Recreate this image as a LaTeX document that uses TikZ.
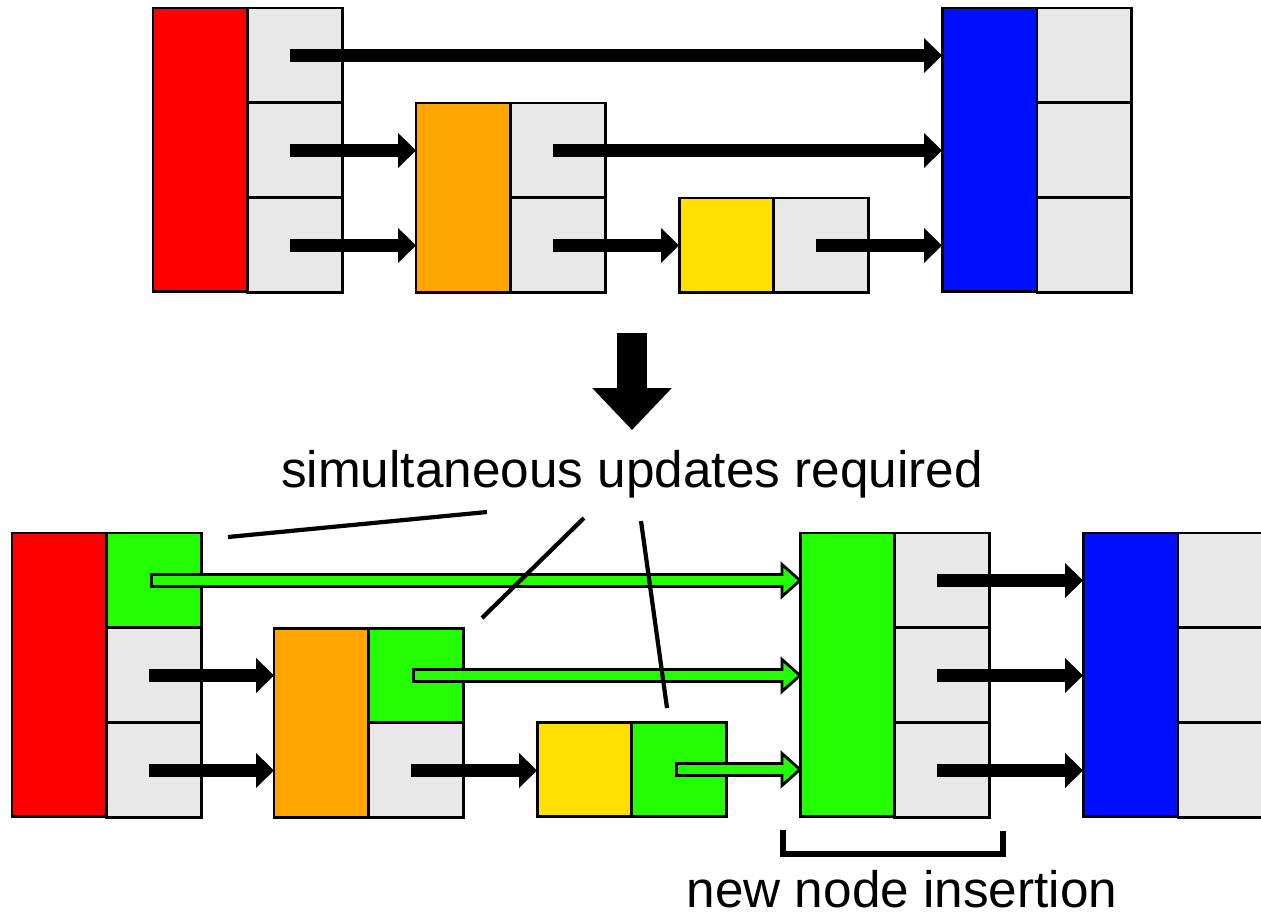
\documentclass[tikz,border=0pt]{standalone}
\usepackage{fontspec}
\setmainfont{Liberation Sans}
\usetikzlibrary{arrows.meta,positioning,calc}
\definecolor{cellgray}{HTML}{E8E8E8}
\definecolor{nred}{HTML}{FF0000}
\definecolor{norange}{HTML}{FFA500}
\definecolor{nyellow}{HTML}{FFE000}
\definecolor{nblue}{HTML}{0010FF}
\definecolor{ngreen}{HTML}{22FF00}
\tikzset{
  box/.style={
    draw=black, line width=1.7pt, inner sep=0pt, outer sep=0pt,
    minimum width=1.9cm, minimum height=1.9cm
  },
  cell/.style={box, fill=cellgray},
  gcell/.style={box, fill=ngreen},
  h1/.style={box, minimum height=1.9cm},
  h2/.style={box, minimum height=3.8cm},
  h3/.style={box, minimum height=5.68cm},
  ptr/.style={line width=0.26cm, -{Triangle[length=0.36cm, width=0.68cm]}},
  gptr/.style={draw=black, fill=ngreen, line width=1.6pt, line join=miter},
  lead/.style={line width=2.4pt},
  bracket/.style={line width=3pt},
  caption/.style={font=\fontsize{29.2}{35}\selectfont, inner sep=0pt},
}
\newcommand{\gptrto}[2]{%
  \path[gptr] let \p1=(#1), \p2=(#2) in
    (\x1-0.06cm,\y1-0.12cm) -- (\x2-0.36cm,\y1-0.12cm) -- (\x2-0.36cm,\y1-0.32cm)
    -- (\x2,\y1) -- (\x2-0.36cm,\y1+0.32cm) -- (\x2-0.36cm,\y1+0.12cm)
    -- (\x1-0.06cm,\y1+0.12cm) -- cycle;}
\begin{document}
\begin{tikzpicture}[x=0.02cm, y=-0.02cm]
  \useasboundingbox (0,0) rectangle (1261,916);
  % before
  \node[h3, fill=nred, anchor=north west] (tred) at (153,8) {};
  \node[cell, below right=0pt and 0pt of tred.north east] (tr1) {};
  \node[cell, below=0pt of tr1] (tr2) {};
  \node[cell, below=0pt of tr2] (tr3) {};
  \node[h2, fill=norange, anchor=north west] (torange) at (416,103) {};
  \node[cell, below right=0pt and 0pt of torange.north east] (to2) {};
  \node[cell, below=0pt of to2] (to3) {};
  \node[h1, fill=nyellow, anchor=north west] (tyellow) at (679,198) {};
  \node[cell, right=0pt of tyellow] (ty3) {};
  \node[h3, fill=nblue, anchor=north west] (tblue) at (942,8) {};
  \node[cell, below right=0pt and 0pt of tblue.north east] (tb1) {};
  \node[cell, below=0pt of tb1] (tb2) {};
  \node[cell, below=0pt of tb2] (tb3) {};
  \draw[ptr] ([xshift=-3]tr1.center) -- (tr1.center -| tblue.west);
  \draw[ptr] ([xshift=-3]tr2.center) -- (tr2.center -| torange.west);
  \draw[ptr] ([xshift=-3]tr3.center) -- (tr3.center -| torange.west);
  \draw[ptr] ([xshift=-3]to2.center) -- (to2.center -| tblue.west);
  \draw[ptr] ([xshift=-3]to3.center) -- (to3.center -| tyellow.west);
  \draw[ptr] ([xshift=-3]ty3.center) -- (ty3.center -| tblue.west);

  \coordinate (stepa) at (632,333);
  \coordinate (stepb) at (632,430);
  \draw[line width=0.6cm, -{Triangle[length=0.84cm, width=1.54cm]}] (stepa) -- (stepb);
  \node[caption, anchor=base] (upd) at (632,487) {simultaneous updates required};

  % after
  \node[h3, fill=nred, anchor=north west] (bred) at (12,533) {};
  \node[gcell, below right=0pt and 0pt of bred.north east] (br1) {};
  \node[cell, below=0pt of br1] (br2) {};
  \node[cell, below=0pt of br2] (br3) {};
  \node[h2, fill=norange, anchor=north west] (borange) at (274,628) {};
  \node[gcell, below right=0pt and 0pt of borange.north east] (bo2) {};
  \node[cell, below=0pt of bo2] (bo3) {};
  \node[h1, fill=nyellow, anchor=north west] (byellow) at (537,722) {};
  \node[gcell, right=0pt of byellow] (by3) {};
  \node[h3, fill=ngreen, anchor=north west] (bnew) at (800,533) {};
  \node[cell, below right=0pt and 0pt of bnew.north east] (bn1) {};
  \node[cell, below=0pt of bn1] (bn2) {};
  \node[cell, below=0pt of bn2] (bn3) {};
  \node[h3, fill=nblue, anchor=north west] (bblue) at (1083,533) {};
  \node[cell, below right=0pt and 0pt of bblue.north east] (bb1) {};
  \node[cell, below=0pt of bb1] (bb2) {};
  \node[cell, below=0pt of bb2] (bb3) {};
  \gptrto{br1.center}{bnew.west}
  \gptrto{bo2.center}{bnew.west}
  \gptrto{by3.center}{bnew.west}
  \draw[ptr] ([xshift=-3]br2.center) -- (br2.center -| borange.west);
  \draw[ptr] ([xshift=-3]br3.center) -- (br3.center -| borange.west);
  \draw[ptr] ([xshift=-3]bo3.center) -- (bo3.center -| byellow.west);
  \foreach \i in {1,2,3}
    \draw[ptr] ([xshift=-3]bn\i.center) -- (bn\i.center -| bblue.west);

  \coordinate (l1a) at (228,537);
  \coordinate (l1b) at (487,512);
  \coordinate (l2a) at (482,618);
  \coordinate (l2b) at (584,518);
  \coordinate (l3a) at (667,708);
  \coordinate (l3b) at (641,521);
  \draw[lead] (l1a) -- (l1b);
  \draw[lead] (l2a) -- (l2b);
  \draw[lead] (l3a) -- (l3b);

  \draw[bracket] ([shift={(-17,13)}]bnew.south west) |- ([shift={(13,36)}]bn3.south east)
    -- ([shift={(13,13)}]bn3.south east);
  \node[caption, anchor=base] (ins) at (902,907) {new node insertion};
\end{tikzpicture}
\end{document}
